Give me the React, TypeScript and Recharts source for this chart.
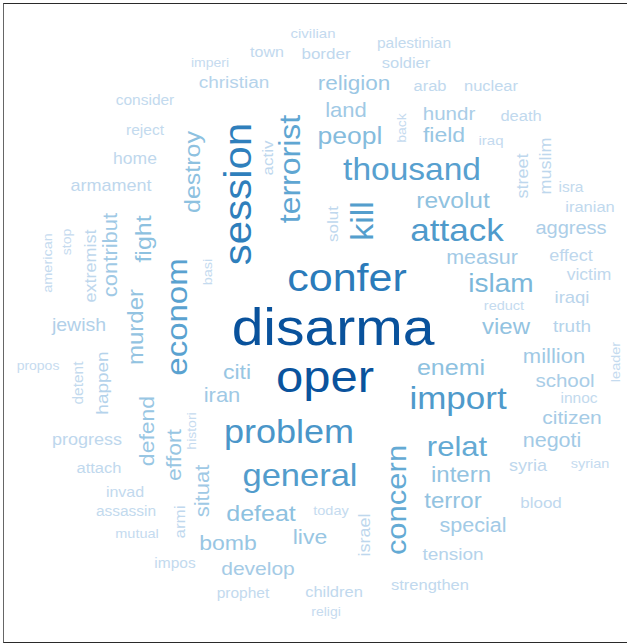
import React from 'react';
import { ScatterChart, Scatter, XAxis, YAxis } from 'recharts';

// Word cloud: stemmed terms, their weights (font size in px) and layout coordinates
const words = [
  'civilian','town','border','palestinian','imperi','soldier','christian','religion','arab','nuclear',
  'consider','land','hundr','death','back','reject','peopl','field','iraq','home',
  'muslim','activ','destroy','session','terrorist','thousand','street','armament','isra','revolut',
  'iranian','contribut','fight','extremist','stop','american','kill','solut','attack','aggress',
  'measur','effect','basi','econom','confer','islam','victim','iraqi','reduct','jewish',
  'murder','disarma','view','truth','million','leader','propos','detent','happen','citi',
  'oper','enemi','school','iran','innoc','import','citizen','defend','histori','progress',
  'problem','negoti','relat','effort','syria','syrian','attach','intern','general','situat',
  'invad','concern','terror','blood','assassin','today','defeat','armi','special','mutual',
  'israel','live','bomb','tension','impos','develop','strengthen','children','prophet','religi',
];

const weights = [
  15,16,17,15.5,14,16.5,19,22.5,16.5,16.5,
  15.5,22,20.5,16.5,14,15.5,26.5,23,15,17.5,
  18,17,25,42,32,33.5,18,18,15.5,24.5,
  16.5,22,25,18,14,14.5,34,17,35,20,
  21.5,18,14.5,33,43,28,17.5,18.5,14.5,19.5,
  24,57,24,19,22,14.5,14,15.5,19,23,
  49,25,20.5,22,15.5,35,21,23,14,18,
  36,21.5,31,23,18,14.5,16.5,24,34.5,22,
  16,31,24,17,15.5,14.5,25,17,21.5,14.5,
  18,23,23,19,15.5,21,16.5,16.5,15.5,14,
];

const layoutX = [
  313,267,326,414,210,406,234,354,430,491,
  145,346,449,521,402,145,350,444,491,135,
  545,267,192,238,290,412,522,111,571,453,
  590,110,143,90,67,47,363,332,457,571,
  482,571,207,177,347,501,589,572,504,79,
  135,333,506,572,554,615,38,78,102,237,
  325,451,565,222,579,458,572,147,192,87,
  289,552,457,174,528,590,99,461,300,202,
  125,396,453,541,126,331,261,179,473,137,
  364,310,228,453,175,258,430,334,243,326,
];

const layoutY = [
  33,52,53,43,63,63,82,83,86,86,
  100,110,113,116,128,130,135,135,140,159,
  166,158,172,194,169,170,176,185,187,200,
  207,255,239,266,242,263,221,224,230,228,
  257,255,272,317,278,283,275,297,305,325,
  327,327,326,326,356,362,366,383,383,372,
  377,367,380,395,398,398,417,431,431,439,
  432,440,446,455,465,463,468,474,475,491,
  492,500,500,502,511,510,513,522,525,533,
  535,537,543,554,563,568,585,592,593,612,
];

const vertical = [
  0,0,0,0,0,0,0,0,0,0,
  0,0,0,0,1,0,0,0,0,0,
  1,1,1,1,1,0,1,0,0,0,
  0,1,1,1,1,1,1,1,0,0,
  0,0,1,1,0,0,0,0,0,0,
  1,0,0,0,0,1,0,1,1,0,
  0,0,0,0,0,0,0,1,1,0,
  0,0,0,1,0,0,0,0,0,1,
  0,1,0,0,0,0,0,1,0,0,
  1,0,0,0,0,0,0,0,0,0,
];

const colorStops: [number, number[]][] = [
  [14, [198, 219, 239]],
  [18, [190, 215, 237]],
  [20, [172, 206, 232]],
  [23, [152, 198, 227]],
  [27, [130, 187, 220]],
  [31, [100, 170, 212]],
  [36, [74, 150, 201]],
  [43, [43, 123, 186]],
  [48, [10, 83, 157]],
  [60, [8, 81, 156]],
];

function colorFor(w: number): string {
  for (let i = 0; i < colorStops.length - 1; i++) {
    const [a, ca] = colorStops[i];
    const [b, cb] = colorStops[i + 1];
    if (w <= b) {
      const t = Math.max(0, (w - a) / (b - a));
      const c = ca.map((v, k) => Math.round(v + (cb[k] - v) * t));
      return `rgb(${c[0]},${c[1]},${c[2]})`;
    }
  }
  return 'rgb(8,81,156)';
}

const data = words.map((w, i) => ({
  word: w,
  x: layoutX[i],
  y: layoutY[i],
  weight: weights[i],
  vertical: vertical[i],
}));

// glyphs in the reference are a little wider than tall relative to Arial
const STRETCH = 1.1;

const WordShape = (props: any) => {
  const { cx, cy, payload } = props;
  if (cx == null || cy == null) return null;
  const rot = payload.vertical ? ' rotate(-90)' : '';
  return (
    <text
      x={0}
      y={0}
      transform={`translate(${cx} ${cy})${rot} scale(${STRETCH} 1)`}
      textAnchor="middle"
      dominantBaseline="central"
      fontSize={payload.weight / STRETCH}
      fontFamily="'Liberation Sans', Arial, Helvetica, sans-serif"
      fill={colorFor(payload.weight)}
    >
      {payload.word}
    </text>
  );
};

export default function App() {
  return (
    <div style={{ position: 'absolute', left: 0, top: 0, width: 627, height: 644, overflow: 'hidden', background: '#fff' }}>
      <ScatterChart width={627} height={644} margin={{ top: 0, right: 0, bottom: 0, left: 0 }}>
        <XAxis type="number" dataKey="x" domain={[0, 627]} hide />
        <YAxis type="number" dataKey="y" domain={[0, 644]} reversed hide />
        <Scatter data={data} shape={<WordShape />} isAnimationActive={false} />
      </ScatterChart>
      <div
        style={{
          position: 'absolute',
          left: 3,
          top: 3,
          width: 700,
          height: 638,
          borderTop: '1.5px solid #2a2a2a',
          borderBottom: '1.5px solid #2a2a2a',
          borderLeft: '1.5px solid #666',
          pointerEvents: 'none',
        }}
      />
    </div>
  );
}
